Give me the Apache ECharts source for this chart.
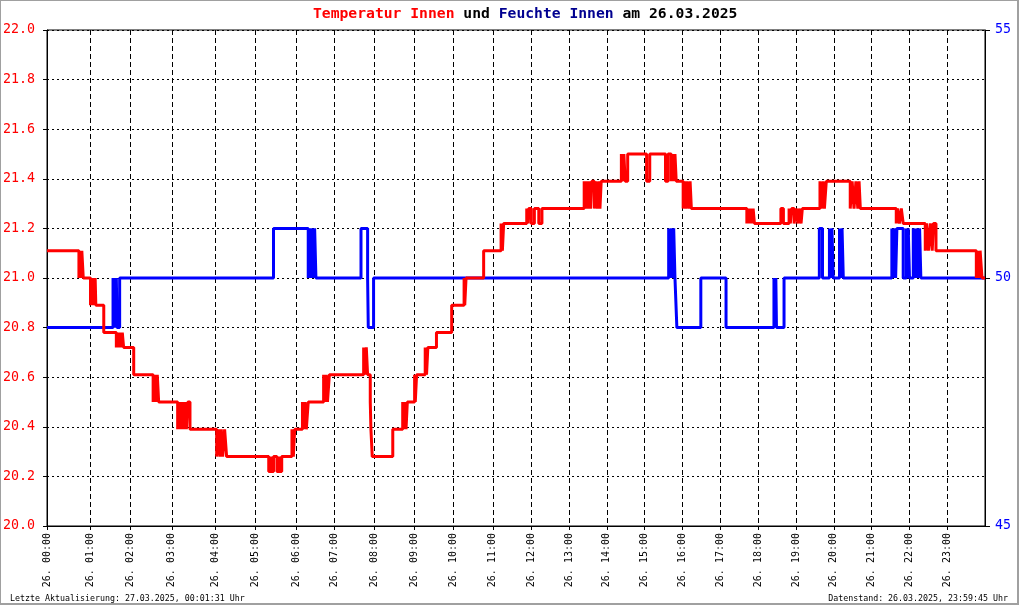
<!DOCTYPE html>
<html>
<head>
<meta charset="utf-8">
<script src="https://cdn.jsdelivr.net/npm/echarts@6/dist/echarts.min.js"></script>
<style>
  html, body { margin: 0; padding: 0; background: #fff; }
  #chart { width: 1020px; height: 606px; }
</style>
</head>
<body>
<div id="chart"></div>
<script>
// records logged per hour (the x axis counts records, labelled by hour)
var recordsPerHour = [69, 63, 66, 69, 63, 65, 61, 63, 63, 63, 62, 61,
                      60, 60, 60, 60, 60, 60, 60, 60, 60, 60, 60, 60];
var dayLabel = '26.';

// Temperatur Innen (°C), value valid from the given time on
var tempSteps = [
  ['00:00', 21.11],
  ['00:44', 21.0], ['00:45', 21.11], ['00:47', 21.0], ['00:48', 21.11], ['00:50', 21.0],
  ['01:00', 20.89], ['01:02', 21.0], ['01:03', 20.89], ['01:05', 21.0], ['01:06', 20.89], ['01:07', 21.0], ['01:08', 20.89],
  ['01:20', 20.78],
  ['01:39', 20.72], ['01:41', 20.78], ['01:43', 20.72], ['01:45', 20.78], ['01:47', 20.72], ['01:48', 20.78], ['01:50', 20.72],
  ['02:05', 20.61],
  ['02:33', 20.5], ['02:35', 20.61], ['02:37', 20.5], ['02:39', 20.61], ['02:41', 20.5],
  ['03:08', 20.39], ['03:10', 20.5], ['03:12', 20.39], ['03:14', 20.5], ['03:16', 20.39], ['03:18', 20.5], ['03:20', 20.39], ['03:22', 20.5], ['03:25', 20.39],
  ['04:02', 20.28], ['04:05', 20.39], ['04:07', 20.28], ['04:09', 20.39], ['04:11', 20.28], ['04:14', 20.39], ['04:17', 20.28],
  ['05:20', 20.22], ['05:23', 20.28], ['05:24', 20.22], ['05:27', 20.28], ['05:32', 20.22], ['05:35', 20.28], ['05:36', 20.22], ['05:39', 20.28],
  ['05:54', 20.39], ['05:56', 20.28], ['05:58', 20.39],
  ['06:10', 20.5], ['06:12', 20.39], ['06:14', 20.5], ['06:16', 20.39], ['06:19', 20.5],
  ['06:43', 20.61], ['06:45', 20.5], ['06:47', 20.61], ['06:49', 20.5], ['06:52', 20.61],
  ['07:44', 20.72], ['07:46', 20.61], ['07:48', 20.72], ['07:50', 20.61],
  ['07:54', 20.5], ['07:55', 20.39], ['07:57', 20.28],
  ['08:28', 20.39],
  ['08:43', 20.5], ['08:45', 20.39], ['08:47', 20.5], ['08:48', 20.39], ['08:50', 20.5],
  ['09:01', 20.61], ['09:02', 20.5], ['09:04', 20.61],
  ['09:17', 20.72], ['09:19', 20.61], ['09:21', 20.72],
  ['09:34', 20.78],
  ['09:57', 20.89],
  ['10:16', 21.0], ['10:17', 20.89], ['10:19', 21.0],
  ['10:46', 21.11],
  ['11:13', 21.22], ['11:15', 21.11], ['11:17', 21.22],
  ['11:53', 21.28], ['11:55', 21.22], ['11:56', 21.28], ['12:00', 21.22], ['12:05', 21.28], ['12:12', 21.22], ['12:17', 21.28],
  ['13:24', 21.39], ['13:26', 21.28], ['13:28', 21.39], ['13:30', 21.28], ['13:32', 21.39], ['13:34', 21.28], ['13:36', 21.39],
  ['13:40', 21.28], ['13:42', 21.39], ['13:45', 21.28], ['13:47', 21.39], ['13:49', 21.28], ['13:51', 21.39],
  ['14:23', 21.5], ['14:25', 21.39], ['14:27', 21.5], ['14:29', 21.39], ['14:33', 21.5],
  ['15:03', 21.39], ['15:08', 21.5], ['15:33', 21.39], ['15:37', 21.5],
  ['15:42', 21.39], ['15:44', 21.5], ['15:46', 21.39], ['15:48', 21.5], ['15:50', 21.39],
  ['16:01', 21.28], ['16:03', 21.39], ['16:05', 21.28], ['16:07', 21.39], ['16:10', 21.28], ['16:12', 21.39], ['16:14', 21.28],
  ['17:42', 21.22], ['17:44', 21.28], ['17:46', 21.22], ['17:48', 21.28], ['17:50', 21.22], ['17:52', 21.28], ['17:54', 21.22],
  ['18:36', 21.28], ['18:40', 21.22],
  ['18:49', 21.28], ['18:51', 21.22], ['18:53', 21.28], ['18:57', 21.22], ['19:00', 21.28], ['19:03', 21.22], ['19:05', 21.28], ['19:08', 21.22], ['19:10', 21.28],
  ['19:38', 21.39], ['19:40', 21.28], ['19:43', 21.39], ['19:45', 21.28], ['19:48', 21.39],
  ['20:26', 21.28], ['20:29', 21.39], ['20:32', 21.28], ['20:35', 21.39], ['20:38', 21.28], ['20:40', 21.39], ['20:42', 21.28],
  ['21:39', 21.22], ['21:41', 21.28], ['21:44', 21.22], ['21:47', 21.28], ['21:50', 21.22],
  ['22:25', 21.11], ['22:27', 21.22], ['22:30', 21.11], ['22:33', 21.22], ['22:36', 21.11], ['22:38', 21.22], ['22:42', 21.11],
  ['23:46', 21.0], ['23:48', 21.11], ['23:50', 21.0], ['23:52', 21.11], ['23:55', 21.0],
  ['23:59:45', 21.0]
];

// Feuchte Innen (%)
var humSteps = [
  ['00:00', 49],
  ['01:34', 50], ['01:35', 49], ['01:36', 50], ['01:37', 49], ['01:39', 50], ['01:40', 49], ['01:44', 50],
  ['05:27', 51],
  ['06:19', 50], ['06:21', 51], ['06:23', 50], ['06:25', 51], ['06:27', 50], ['06:29', 51], ['06:31', 50],
  ['07:40', 51], ['07:50', 50], ['07:51', 49], ['07:59', 50],
  ['15:38', 51], ['15:40', 50], ['15:42', 51], ['15:44', 50], ['15:46', 51], ['15:48', 50], ['15:51', 49],
  ['16:29', 50],
  ['17:09', 49],
  ['18:25', 50], ['18:27', 49], ['18:28', 50], ['18:29', 49], ['18:41', 50],
  ['19:37', 51], ['19:42', 50], ['19:53', 51], ['19:55', 50], ['19:57', 51], ['19:59', 50],
  ['20:09', 51], ['20:11', 50], ['20:13', 51], ['20:15', 50],
  ['21:32', 51], ['21:34', 50], ['21:36', 51], ['21:38', 50], ['21:40', 51], ['21:50', 50],
  ['21:55', 51], ['21:57', 50], ['21:58', 51], ['22:00', 50],
  ['22:06', 51], ['22:08', 50], ['22:09', 51], ['22:11', 50],
  ['22:13', 51], ['22:15', 50], ['22:16', 51], ['22:18', 50],
  ['23:59:45', 50]
];

var mono = 'DejaVu Sans Mono';

var hourStart = [];
var acc = 0;
for (var i = 0; i < recordsPerHour.length; i++) {
  hourStart.push(acc);
  acc += recordsPerHour[i];
}

function toX(t) {
  var p = t.split(':');
  var h = parseInt(p[0], 10), m = parseInt(p[1], 10), s = p[2] ? parseInt(p[2], 10) : 0;
  return hourStart[h] + (m + s / 60) / 60 * recordsPerHour[h];
}
function toSeries(steps) {
  return steps.map(function (d) { return [toX(d[0]), d[1]]; });
}
function pad(n) { return (n < 10 ? '0' : '') + n; }

var xMax = toX('23:59:45');

var chart = echarts.init(document.getElementById('chart'), null, { renderer: 'canvas' });
var option = {
  backgroundColor: '#fff',
  animation: false,
  title: {
    text: '{r|Temperatur Innen} {k|und} {b|Feuchte Innen} {k|am 26.03.2025}',
    left: 308,
    top: 2,
    textStyle: {
      fontFamily: mono, fontSize: 14.7, fontWeight: 'bold', color: '#000',
      rich: {
        r: { fontFamily: mono, fontSize: 14.7, fontWeight: 'bold', color: '#ff0000' },
        k: { fontFamily: mono, fontSize: 14.7, fontWeight: 'bold', color: '#000000' },
        b: { fontFamily: mono, fontSize: 14.7, fontWeight: 'bold', color: '#000090' }
      }
    }
  },
  grid: {
    left: 43, right: 35, top: 30, bottom: 80,
    show: true, borderColor: '#000', borderWidth: 1, backgroundColor: '#fff'
  },
  xAxis: {
    type: 'value',
    min: 0,
    max: xMax,
    axisLine: { lineStyle: { color: '#000', width: 1 } },
    axisTick: { show: true, inside: false, length: 4, lineStyle: { color: '#000' }, customValues: hourStart },
    axisLabel: {
      customValues: hourStart,
      rotate: 90,
      margin: 7,
      color: '#000',
      fontFamily: mono,
      fontSize: 10,
      formatter: function (v) {
        var h = hourStart.indexOf(v);
        return dayLabel + ' ' + pad(h) + ':00';
      }
    },
    splitLine: { show: true, lineStyle: { color: '#000', type: [5, 3], width: 1 } }
  },
  yAxis: [
    {
      type: 'value',
      min: 20, max: 22, interval: 0.2,
      position: 'left',
      axisLine: { show: true, lineStyle: { color: '#000' } },
      axisTick: { show: true, length: 4, lineStyle: { color: '#000' } },
      axisLabel: {
        color: '#ff0000', fontFamily: mono, fontSize: 13.3, margin: 12,
        formatter: function (v) { return v.toFixed(1); }
      },
      splitLine: { show: true, lineStyle: { color: '#000', type: [2, 3], width: 1 } }
    },
    {
      type: 'value',
      min: 45, max: 55, interval: 5,
      position: 'right',
      axisLine: { show: true, lineStyle: { color: '#000' } },
      axisTick: { show: true, length: 5, lineStyle: { color: '#000' } },
      axisLabel: { color: '#0000ff', fontFamily: mono, fontSize: 13.3, margin: 10 },
      splitLine: { show: false }
    }
  ],
  series: [
    {
      name: 'Feuchte Innen',
      type: 'line',
      yAxisIndex: 1,
      step: 'end',
      showSymbol: false,
      lineStyle: { color: '#0000ff', width: 3 },
      itemStyle: { color: '#0000ff' },
      data: toSeries(humSteps)
    },
    {
      name: 'Temperatur Innen',
      type: 'line',
      yAxisIndex: 0,
      step: 'end',
      showSymbol: false,
      lineStyle: { color: '#ff0000', width: 3 },
      itemStyle: { color: '#ff0000' },
      data: toSeries(tempSteps)
    }
  ],
  graphic: [
    {
      type: 'rect',
      shape: { x: 0, y: 0, width: 1018, height: 604 },
      style: { fill: 'none', stroke: '#a0a0a0', lineWidth: 2 },
      silent: true
    },
    {
      type: 'text',
      left: 10,
      top: 595,
      style: { text: 'Letzte Aktualisierung: 27.03.2025, 00:01:31 Uhr', fontFamily: mono, fontSize: 8.3, fill: '#000' }
    },
    {
      type: 'text',
      right: 12,
      top: 595,
      style: { text: 'Datenstand: 26.03.2025, 23:59:45 Uhr', fontFamily: mono, fontSize: 8.3, fill: '#000' }
    }
  ]
};
chart.setOption(option);
</script>
</body>
</html>
